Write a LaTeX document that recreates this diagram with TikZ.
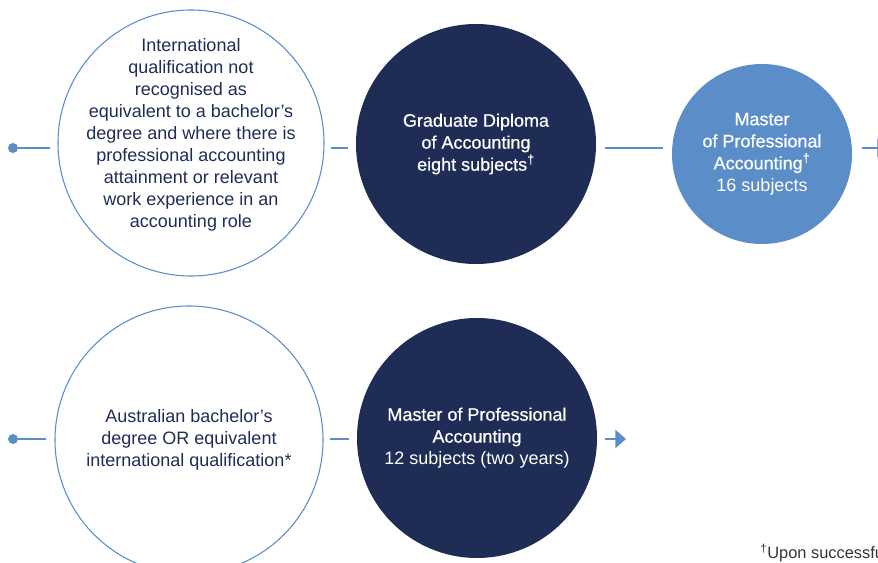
\documentclass[tikz,border=0pt]{standalone}
\usepackage{fontspec}
\setmainfont{Liberation Sans}
\newfontfamily\medfont{Liberation Sans}[FakeBold=0.6]
\newcommand\md[1]{{\medfont #1}}
\usetikzlibrary{arrows.meta}
\definecolor{navy}{HTML}{1F2D56}
\definecolor{sky}{HTML}{5B8DC8}
\tikzset{
  ring/.style={circle, draw=sky, line width=0.8pt, inner sep=0pt},
  disc/.style={circle, fill=navy, text=white, align=center, inner sep=0pt},
  pale/.style={circle, fill=sky, text=white, align=center, inner sep=0pt},
  body/.style={font=\fontsize{13.5}{16.5}\selectfont},
  link/.style={draw=sky, line width=1.9pt},
  dot/.style={circle, fill=sky, inner sep=0pt, minimum size=7.5pt}
}
\begin{document}
\begin{tikzpicture}[x=0.75pt,y=-0.75pt,body]
\useasboundingbox (0,0) rectangle (878,563);
\coordinate (r1) at (0,148);
\coordinate (r2) at (0,439);
% first row
\node [ring, minimum size=199.5pt] (c1) at (191,143) {};
\node [text=navy, align=center, inner sep=0pt] (t1) at ([yshift=6pt]c1.center)
  {International\\ qualification not\\ recognised as\\ equivalent to a bachelor’s\\
   degree and where there is\\ professional accounting\\ attainment or relevant\\
   work experience in an\\ accounting role};
\node [disc, minimum size=180pt] (c2) at (476,144)
  {\md{Graduate Diploma}\\ \md{of Accounting}\\ \md{eight subjects\textsuperscript{†}}};
\node [pale, minimum size=135pt] (c3) at (762,154)
  {\md{Master}\\ \md{of Professional}\\ \md{Accounting\textsuperscript{†}}\\ 16 subjects};
\node [dot] (d1) at (13,148) {};
\coordinate (e1) at (888,148);
\draw [link] (d1) -- ([xshift=-5.25pt]c1.west |- r1);
\draw [link] ([xshift=4.5pt]c1.east |- r1) -- ([xshift=-6pt]c2.west |- r1);
\draw [link] ([xshift=6.75pt]c2.east |- r1) -- ([xshift=-6.75pt]c3.west |- r1);
\draw [link, -{Triangle[length=8pt,width=13.5pt]}] ([xshift=7.5pt]c3.east |- r1) -- (e1);
% second row
\node [ring, minimum size=201pt, text=navy, align=center] (c4) at (189,440)
  {Australian bachelor’s\\ degree OR equivalent\\ international qualification*};
\node [disc, minimum size=180pt] (c5) at (477,438)
  {\md{Master of Professional}\\ \md{Accounting}\\ 12 subjects (two years)};
\node [dot] (d2) at (13,439) {};
\coordinate (e2) at (626,439);
\draw [link] (d2) -- ([xshift=-6pt]c4.west |- r2);
\draw [link] ([xshift=4.5pt]c4.east |- r2) -- ([xshift=-6pt]c5.west |- r2);
\draw [link, -{Triangle[length=8pt,width=13.5pt]}] ([xshift=6pt]c5.east |- r2) -- (e2);
% note
\node [anchor=base west, inner sep=0pt, font=\fontsize{12.3}{14}\selectfont, text=black!80]
  (fn) at (760,558) {\textsuperscript{†}Upon successful};
\end{tikzpicture}
\end{document}
